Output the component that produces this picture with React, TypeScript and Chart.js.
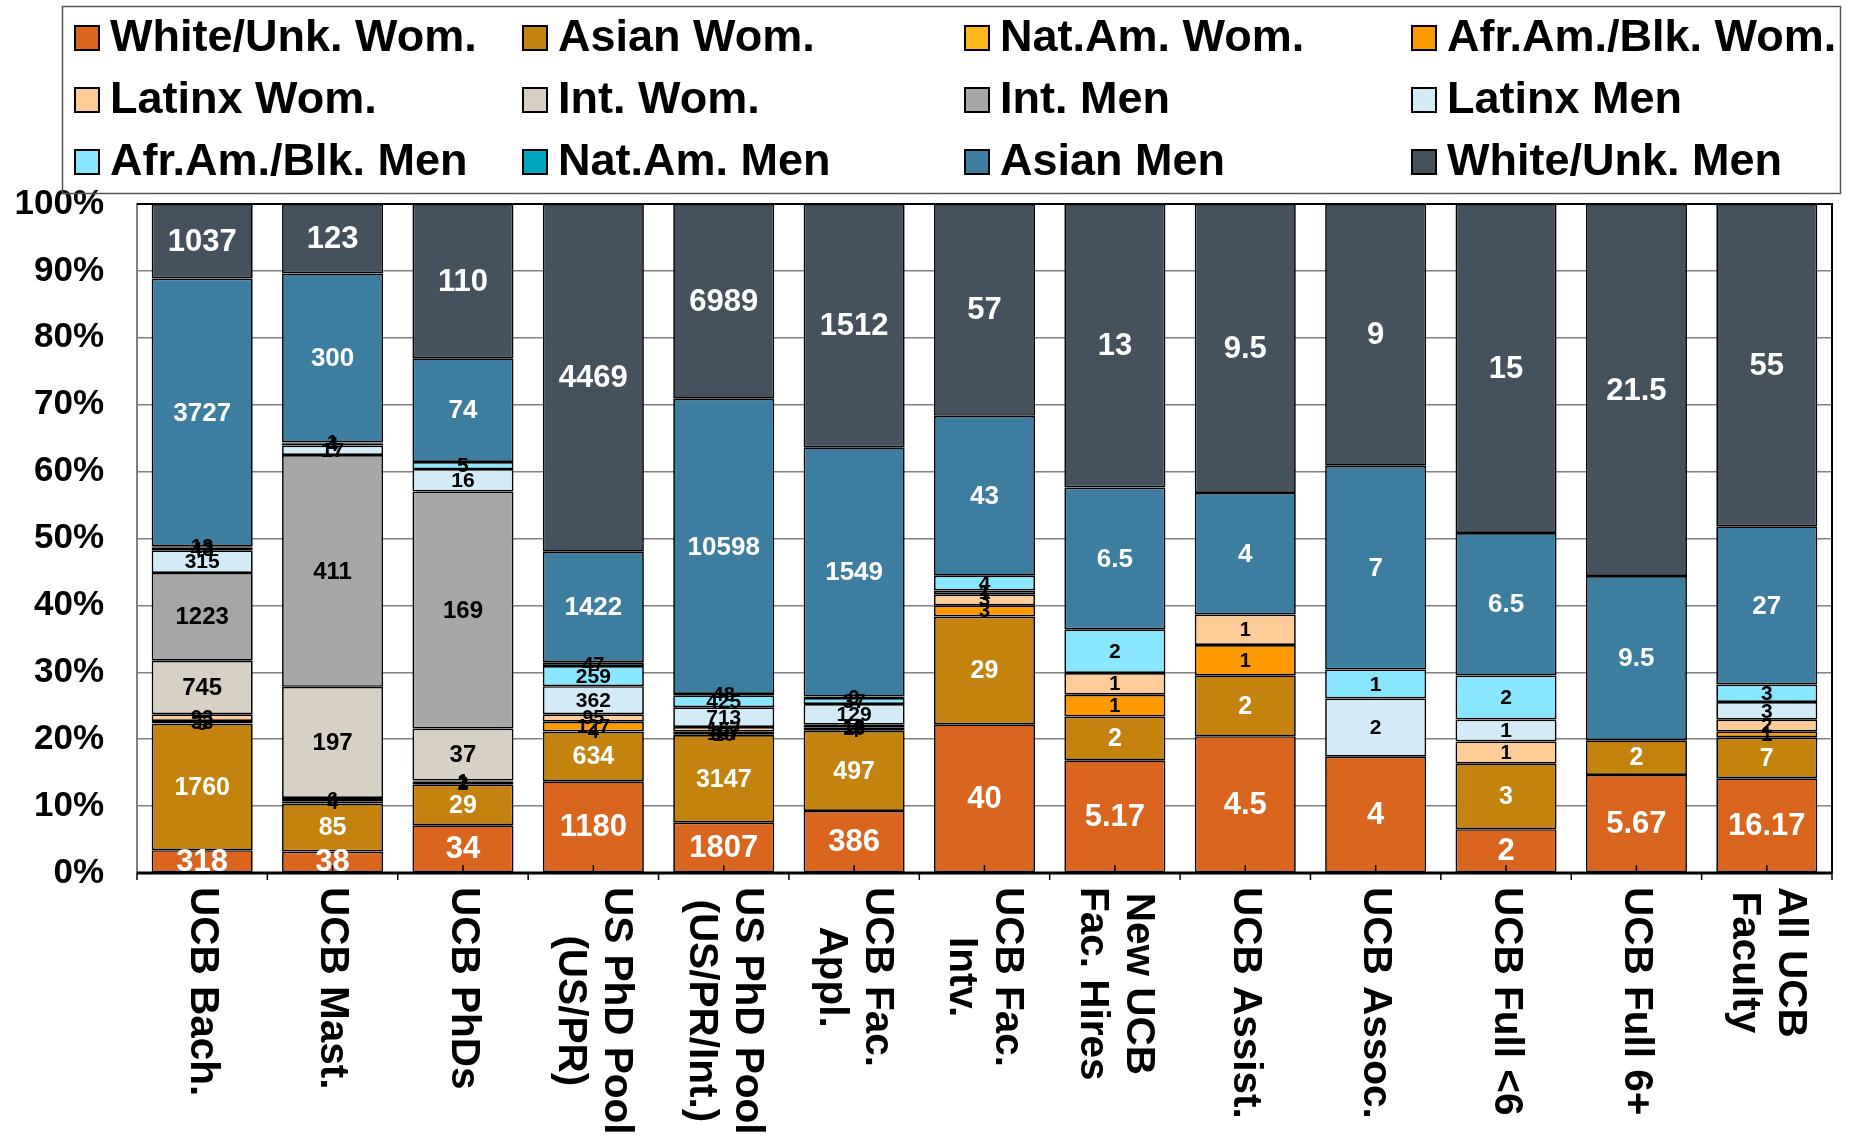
import React, { useEffect, useRef } from 'react';
import { Chart, registerables } from 'chart.js';

Chart.register(...registerables);

const FONT = '"Liberation Sans", Arial, Helvetica, sans-serif';

// ---- categories (multi-line x labels) ----
const categories: string[][] = [
  ['UCB Bach.'],
  ['UCB Mast.'],
  ['UCB PhDs'],
  ['US PhD Pool', '(US/PR)'],
  ['US PhD Pool', '(US/PR/Int.)'],
  ['UCB Fac.', 'Appl.'],
  ['UCB Fac.', 'Intv.'],
  ['New UCB', 'Fac. Hires'],
  ['UCB Assist.'],
  ['UCB Assoc.'],
  ['UCB Full <6'],
  ['UCB Full 6+'],
  ['All UCB', 'Faculty'],
];

// ---- series values (stack order bottom -> top) ----
const whiteWom = [318, 38, 34, 1180, 1807, 386, 40, 5.17, 4.5, 4, 2, 5.67, 16.17];
const asianWom = [1760, 85, 29, 634, 3147, 497, 29, 2, 2, 0, 3, 2, 7];
const natAmWom = [5, 0, 0, 4, 10, 4, 0, 0, 0, 0, 0, 0, 0];
const afrAmWom = [33, 4, 2, 127, 107, 18, 3, 1, 1, 0, 0, 0, 1];
const latinxWom = [93, 6, 1, 95, 167, 16, 3, 1, 1, 0, 1, 0, 2];
const intWom = [745, 197, 37, 0, 0, 0, 0, 0, 0, 0, 0, 0, 0];
const intMen = [1223, 411, 169, 0, 0, 0, 0, 0, 0, 0, 0, 0, 0];
const latinxMen = [315, 17, 16, 362, 713, 129, 1, 0, 0, 2, 1, 0, 3];
const afrAmMen = [43, 4, 5, 259, 425, 37, 4, 2, 0, 1, 2, 0, 3];
const natAmMen = [13, 1, 0, 47, 48, 9, 0, 0, 0, 0, 0, 0, 0];
const asianMen = [3727, 300, 74, 1422, 10598, 1549, 43, 6.5, 4, 7, 6.5, 9.5, 27];
const whiteMen = [1037, 123, 110, 4469, 6989, 1512, 57, 13, 9.5, 9, 15, 21.5, 55];

const seriesNames = [
  'White/Unk. Wom.',
  'Asian Wom.',
  'Nat.Am. Wom.',
  'Afr.Am./Blk. Wom.',
  'Latinx Wom.',
  'Int. Wom.',
  'Int. Men',
  'Latinx Men',
  'Afr.Am./Blk. Men',
  'Nat.Am. Men',
  'Asian Men',
  'White/Unk. Men',
];
const seriesValues = [
  whiteWom, asianWom, natAmWom, afrAmWom, latinxWom, intWom,
  intMen, latinxMen, afrAmMen, natAmMen, asianMen, whiteMen,
];
const seriesColors = [
  '#D9651F', '#C4830F', '#FFB81C', '#FF9900', '#FFCC99', '#D7D1C5',
  '#A6A6A6', '#D3EAF7', '#88E6FF', '#00A6C0', '#3C7DA0', '#45525E',
];
const labelColors = [
  '#FFFFFF', '#FFFFFF', '#000000', '#000000', '#000000', '#000000',
  '#000000', '#000000', '#000000', '#000000', '#FFFFFF', '#FFFFFF',
];
const labelSizes = [31, 25, 20, 20, 20, 24, 24, 21, 21, 20, 26, 31];

const yTickValues = [0, 10, 20, 30, 40, 50, 60, 70, 80, 90, 100];

export default function App() {
  const ref = useRef<HTMLCanvasElement>(null);

  useEffect(() => {
    if (!ref.current) return;
    Chart.defaults.font.family = FONT;

    const totals = categories.map((_, i) =>
      seriesValues.reduce((s, arr) => s + arr[i], 0)
    );

    const datasets = seriesNames.map((name, k) => ({
      label: name,
      data: seriesValues[k].map((v, i) => (v / totals[i]) * 100),
      backgroundColor: seriesColors[k],
      borderColor: '#000000',
      borderWidth: 1.7,
      borderSkipped: false as const,
      barPercentage: 0.775,
      categoryPercentage: 1,
    }));

    const custom = {
      id: 'customDraw',
      afterDatasetsDraw(chart: any) {
        const ctx = chart.ctx;
        const a = chart.chartArea;
        const xs = chart.scales.x;
        ctx.save();
        ctx.strokeStyle = '#000';
        ctx.lineWidth = 2;
        ctx.beginPath();
        ctx.moveTo(a.left, a.top);
        ctx.lineTo(a.right, a.top);
        ctx.lineTo(a.right, a.bottom);
        ctx.stroke();
        ctx.lineWidth = 3;
        ctx.beginPath();
        ctx.moveTo(a.left, a.bottom);
        ctx.lineTo(a.right, a.bottom);
        ctx.stroke();
        ctx.lineWidth = 1.5;
        const n = categories.length;
        const step = (a.right - a.left) / n;
        for (let i = 0; i < n; i++) {
          const cx = xs.getPixelForValue(i);
          ctx.beginPath();
          ctx.moveTo(cx, a.bottom - 8);
          ctx.lineTo(cx, a.bottom);
          ctx.stroke();
        }
        for (let i = 0; i <= n; i++) {
          const bx = a.left + i * step;
          ctx.beginPath();
          ctx.moveTo(bx, a.bottom);
          ctx.lineTo(bx, a.bottom + 7);
          ctx.stroke();
        }
        ctx.textAlign = 'center';
        ctx.textBaseline = 'middle';
        seriesValues.forEach((vals, k) => {
          const meta = chart.getDatasetMeta(k);
          ctx.font = `bold ${labelSizes[k]}px ${FONT}`;
          ctx.fillStyle = labelColors[k];
          meta.data.forEach((bar: any, i: number) => {
            const v = vals[i];
            if (!v) return;
            const p = bar.getProps(['x', 'y', 'base'], true);
            ctx.fillText(String(v), p.x, (p.y + p.base) / 2 + 1);
          });
        });
        ctx.restore();
      },
      afterDraw(chart: any) {
        const ctx = chart.ctx;
        const xs = chart.scales.x;
        const a = chart.chartArea;
        ctx.save();
        // x labels rotated clockwise, lines centred on each other
        ctx.fillStyle = '#000';
        ctx.font = `bold 40.5px ${FONT}`;
        ctx.textAlign = 'center';
        ctx.textBaseline = 'middle';
        categories.forEach((lines, i) => {
          const cx = xs.getPixelForValue(i);
          const w = Math.max(...lines.map((l) => ctx.measureText(l).width));
          ctx.save();
          ctx.translate(cx, a.bottom + 14);
          ctx.rotate(Math.PI / 2);
          lines.forEach((ln, k) => {
            ctx.fillText(ln, w / 2, (k - (lines.length - 1) / 2) * 46);
          });
          ctx.restore();
        });
        // legend box
        ctx.strokeStyle = '#555';
        ctx.lineWidth = 1.5;
        ctx.strokeRect(62.5, 6.5, 1778, 187);
        const colX = [75, 523, 965, 1412];
        const rowBase = [51, 113, 175];
        ctx.font = `bold 45px ${FONT}`;
        ctx.textAlign = 'left';
        ctx.textBaseline = 'alphabetic';
        seriesNames.forEach((name, k) => {
          const c = k % 4;
          const r = Math.floor(k / 4);
          const x = colX[c];
          const b = rowBase[r];
          ctx.fillStyle = seriesColors[k];
          ctx.fillRect(x, b - 25, 24, 24);
          ctx.strokeStyle = '#000';
          ctx.lineWidth = 2;
          ctx.strokeRect(x, b - 25, 24, 24);
          ctx.fillStyle = '#000';
          ctx.fillText(name, x + 35, b);
        });
        ctx.restore();
      },
    };

    const chart = new Chart(ref.current, {
      type: 'bar',
      data: {
        labels: categories.map((c) => c.join(' ')),
        datasets,
      },
      options: {
        animation: false,
        responsive: false,
        layout: { padding: { top: 204, right: 21, left: 0, bottom: 0 } },
        plugins: {
          legend: { display: false },
          tooltip: { enabled: false },
        },
        scales: {
          x: {
            stacked: true,
            grid: { display: false },
            border: { display: false },
            ticks: { display: false },
            afterFit: (s: any) => {
              s.height = 264;
            },
          },
          y: {
            stacked: true,
            min: 0,
            max: 100,
            afterBuildTicks: (s: any) => {
              s.ticks = yTickValues.map((v) => ({ value: v }));
            },
            ticks: {
              callback: (v: any) => `${v}%`,
              color: '#000',
              padding: 33,
              font: { family: FONT, size: 35, weight: 'bold' },
            },
            grid: { color: '#808080', lineWidth: 1.5, drawTicks: false },
            border: { display: true, color: '#808080', width: 2 },
            afterFit: (s: any) => {
              s.width = 137;
            },
          },
        },
      },
      plugins: [custom],
    } as any);

    return () => chart.destroy();
  }, []);

  return (
    <div style={{ position: 'fixed', left: 0, top: 0, width: 1853, height: 1137, background: '#fff' }}>
      <canvas ref={ref} width={1853} height={1137} style={{ display: 'block', width: 1853, height: 1137 }} />
    </div>
  );
}
